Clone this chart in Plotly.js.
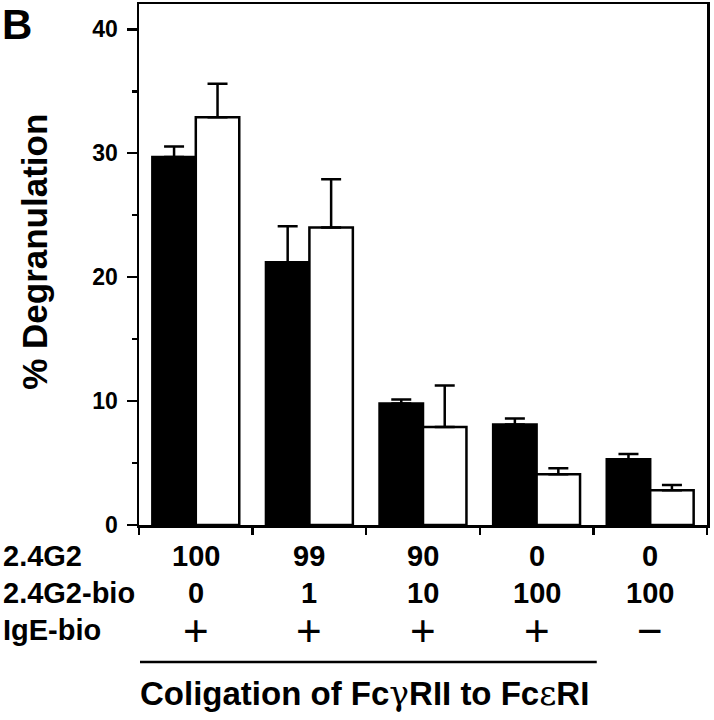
<!DOCTYPE html>
<html>
<head>
<meta charset="utf-8">
<script src="https://cdn.plot.ly/plotly-3.0.1.min.js"></script>
<style>body{margin:0;background:#fff}</style>
</head>
<body>
<div id="chart" style="width:714px;height:720px"></div>
<script>
// valores
const grupos = [0, 1, 2, 3, 4]
const preto = [29.7, 21.2, 9.8, 8.1, 5.3]
const pretoErro = [0.85, 2.9, 0.32, 0.49, 0.43]
const branco = [32.9, 24.0, 7.9, 4.1, 2.8]
const brancoErro = [2.7, 3.9, 3.35, 0.48, 0.43]

// tabela embaixo do grafico
const rotulos = ["2.4G2", "2.4G2-bio", "IgE-bio"]
const linha2_4G2 = ["100", "99", "90", "0", "0"]
const linha2_4G2bio = ["0", "1", "10", "100", "100"]
const linhaIgE = ["+", "+", "+", "+", "\u2212"]
const yTicks = [0, 10, 20, 30, 40]

const fonte = "Liberation Sans, Arial, sans-serif"

// area do plot em px
const L = 139, R = 707.3, T = 4, B = 525.5
function px2y(p) { return (B - p) / (B - T) }
function px2x(p) { return (p - L) / (R - L) }

function barra(vals, erros, cor) {
  return {
    type: "bar",
    x: grupos,
    y: vals,
    marker: { color: cor, line: { color: "#000", width: 2.5 } },
    error_y: {
      type: "data",
      symmetric: false,
      array: erros,
      arrayminus: erros.map(() => 0),
      color: "#000",
      thickness: 2.5,
      width: 10,
    },
    hoverinfo: "none",
  }
}

var data = [barra(preto, pretoErro, "#000"), barra(branco, brancoErro, "#fff")]

var anotacoes = []
// letra do painel
anotacoes.push({
  text: "B", xref: "paper", yref: "paper", x: px2x(0), y: px2y(25),
  xanchor: "left", yanchor: "middle", showarrow: false,
  font: { family: fonte, size: 42, weight: "bold", color: "#000" },
})
// titulo do eixo y
anotacoes.push({
  text: "% Degranulation", xref: "paper", yref: "paper", x: px2x(35), y: px2y(252),
  xanchor: "center", yanchor: "middle", textangle: -90, showarrow: false,
  font: { family: fonte, size: 35, weight: "bold", color: "#000" },
})
// linhas da tabela
const linhas = [linha2_4G2, linha2_4G2bio, linhaIgE]
const alturas = [557, 594, 631]
for (let r = 0; r < linhas.length; r++) {
  anotacoes.push({
    text: rotulos[r], xref: "paper", yref: "paper", x: px2x(1), y: px2y(alturas[r]),
    xanchor: "left", yanchor: "middle", showarrow: false,
    font: { family: fonte, size: 29, weight: "bold", color: "#000" },
  })
  for (let k = 0; k < grupos.length; k++) {
    let sinal = r == 2
    anotacoes.push({
      text: linhas[r][k], xref: "x", yref: "paper", x: grupos[k], y: px2y(alturas[r]),
      xanchor: "center", yanchor: "middle", showarrow: false,
      font: { family: fonte, size: sinal ? 44 : 29, weight: sinal ? "normal" : "bold", color: "#000" },
    })
  }
}
// legenda de baixo
anotacoes.push({
  text: 'Coligation of Fc<span style="font-family:DejaVu Serif;font-weight:normal">\u03b3</span>RII to Fc<span style="font-family:DejaVu Serif;font-weight:normal">\u03b5</span>RI',
  xref: "paper", yref: "paper", x: px2x(365), y: px2y(694),
  xanchor: "center", yanchor: "middle", showarrow: false,
  font: { family: fonte, size: 33, weight: "bold", color: "#000" },
})

var layout = {
  width: 714,
  height: 720,
  margin: { l: L, r: 714 - R, t: T, b: 720 - B },
  paper_bgcolor: "#fff",
  plot_bgcolor: "#fff",
  showlegend: false,
  barmode: "group",
  bargap: 0.235,
  bargroupgap: 0,
  xaxis: {
    range: [-0.5, 4.5],
    tickvals: [-0.5, 0.5, 1.5, 2.5, 3.5, 4.5],
    showticklabels: false,
    ticks: "outside", ticklen: 7, tickwidth: 2.5, tickcolor: "#000",
    showline: true, linewidth: 2.5, linecolor: "#000", mirror: true,
    showgrid: false, zeroline: false, fixedrange: true,
  },
  yaxis: {
    range: [0, 42.04],
    tickvals: yTicks,
    ticks: "outside", ticklen: 10, tickwidth: 2.5, tickcolor: "#000",
    ticklabelstandoff: 4,
    minor: { dtick: 5, tick0: 0, ticks: "outside", ticklen: 5, tickwidth: 2.5, tickcolor: "#000", showgrid: false },
    tickfont: { family: fonte, size: 23, weight: "bold", color: "#000" },
    showline: true, linewidth: 2.5, linecolor: "#000", mirror: true,
    showgrid: false, zeroline: false, fixedrange: true,
  },
  shapes: [{
    type: "line", xref: "paper", yref: "paper",
    x0: px2x(140), x1: px2x(597), y0: px2y(662.7), y1: px2y(662.7),
    line: { color: "#000", width: 2.5 },
  }],
  annotations: anotacoes,
}

Plotly.newPlot("chart", data, layout, { staticPlot: true })
</script>
</body>
</html>
